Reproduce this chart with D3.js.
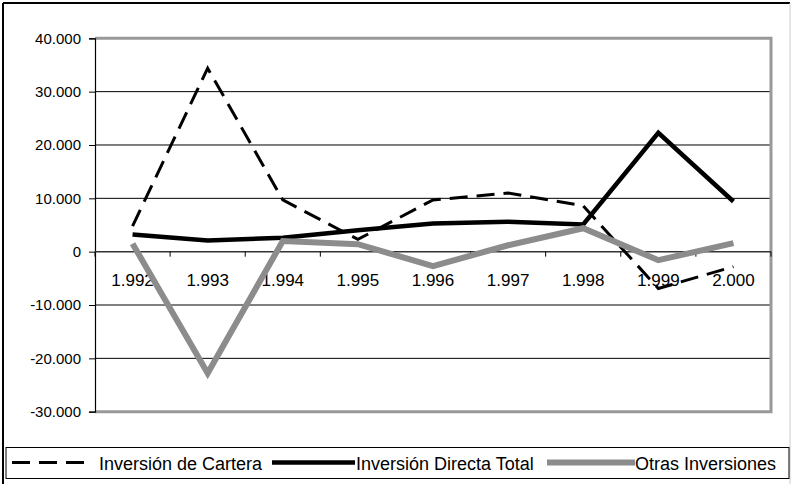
<!DOCTYPE html>
<html>
<head>
<meta charset="utf-8">
<script src="https://cdn.jsdelivr.net/npm/d3@7"></script>
<style>
  html, body { margin: 0; padding: 0; background: #fff; }
  svg { display: block; font-family: Arial, "Liberation Sans", sans-serif; }
</style>
</head>
<body>
<svg id="chart" width="792" height="484"></svg>
<script>
// Years on the category axis
const years = ["1.992", "1.993", "1.994", "1.995", "1.996", "1.997", "1.998", "1.999", "2.000"];

// Series values (millions)
const inversionCartera = [4800, 34400, 9700, 2300, 9700, 11000, 8600, -6900, -2800];
const inversionDirecta = [3200, 2100, 2600, 4000, 5300, 5600, 5100, 22300, 9400];
const otrasInversiones = [1500, -22800, 2000, 1400, -2700, 1200, 4400, -1600, 1600];

// Value axis ticks
const yTicks = [40000, 30000, 20000, 10000, 0, -10000, -20000, -30000];
const yTickLabels = ["40.000", "30.000", "20.000", "10.000", "0", "-10.000", "-20.000", "-30.000"];

const seriesNames = ["Inversión de Cartera", "Inversión Directa Total", "Otras Inversiones"];

const svg = d3.select("#chart");

const plot = { left: 95, right: 771, top: 38.3, bottom: 411.7 };

const x = d3.scaleBand().domain(years).range([plot.left, plot.right]);
const y = d3.scaleLinear().domain([-30000, 40000]).range([plot.bottom, plot.top]);

// Outer chart frame
svg.append("line").attr("x1", 3).attr("y1", 3).attr("x2", 790).attr("y2", 3)
  .attr("stroke", "#000").attr("stroke-width", 2);
svg.append("line").attr("x1", 3).attr("y1", 3).attr("x2", 3).attr("y2", 484)
  .attr("stroke", "#000").attr("stroke-width", 2);
svg.append("line").attr("x1", 790).attr("y1", 3).attr("x2", 790).attr("y2", 484)
  .attr("stroke", "#ccc").attr("stroke-width", 1);

// Horizontal gridlines
svg.append("g").selectAll("line")
  .data(yTicks.filter(v => v !== 40000 && v !== -30000 && v !== 0))
  .join("line")
  .attr("x1", plot.left).attr("x2", plot.right)
  .attr("y1", d => y(d)).attr("y2", d => y(d))
  .attr("stroke", "#000").attr("stroke-width", 1);

// Plot area border (top, right, bottom)
svg.append("path")
  .attr("d", `M${plot.left},${y(40000)}H${plot.right}V${y(-30000)}H${plot.left}`)
  .attr("fill", "none").attr("stroke", "#999").attr("stroke-width", 3);

// Value axis
const yAxis = d3.axisLeft(y)
  .tickValues(yTicks)
  .tickFormat((d, i) => yTickLabels[i])
  .tickSize(6)
  .tickPadding(8);
const gy = svg.append("g").attr("transform", `translate(${plot.left},0)`).call(yAxis);
gy.select(".domain").attr("stroke", "#000").attr("stroke-width", 1.2);
gy.selectAll(".tick line").attr("stroke", "#000");
gy.selectAll(".tick text").attr("font-size", 15).attr("fill", "#000")
  .attr("font-family", "Arial, 'Liberation Sans', sans-serif");

// Category axis along zero, with ticks between categories
const zeroY = y(0);
svg.append("line").attr("x1", plot.left).attr("x2", plot.right)
  .attr("y1", zeroY).attr("y2", zeroY).attr("stroke", "#333").attr("stroke-width", 1.5);
const bounds = years.map(d => x(d)).concat([plot.right]);
svg.append("g").selectAll("line").data(bounds).join("line")
  .attr("x1", d => d).attr("x2", d => d)
  .attr("y1", zeroY).attr("y2", zeroY + 5)
  .attr("stroke", "#000").attr("stroke-width", 1);
svg.append("g").selectAll("text").data(years).join("text")
  .attr("x", d => x(d) + x.bandwidth() / 2)
  .attr("y", zeroY + 34)
  .attr("text-anchor", "middle")
  .attr("font-size", 17)
  .attr("fill", "#000")
  .text(d => d);

// Series lines
const line = d3.line()
  .x((d, i) => x(years[i]) + x.bandwidth() / 2)
  .y(d => y(d));

const styles = [
  { values: inversionCartera, stroke: "#000", width: 3, dash: "18,9" },
  { values: inversionDirecta, stroke: "#000", width: 4.5, dash: null },
  { values: otrasInversiones, stroke: "#8c8c8c", width: 6, dash: null }
];

styles.forEach(s => {
  svg.append("path")
    .datum(s.values)
    .attr("d", line)
    .attr("fill", "none")
    .attr("stroke", s.stroke)
    .attr("stroke-width", s.width)
    .attr("stroke-linejoin", "miter")
    .attr("stroke-dasharray", s.dash);
});

// Legend
const legend = svg.append("g");
legend.append("rect")
  .attr("x", 6).attr("y", 447.5).attr("width", 783).attr("height", 31)
  .attr("fill", "#fff").attr("stroke", "#000").attr("stroke-width", 1);

const legendItems = [
  { x1: 12, x2: 87, tx: 99, style: styles[0] },
  { x1: 272, x2: 355, tx: 356, style: styles[1] },
  { x1: 547, x2: 635, tx: 635, style: styles[2] }
];
legendItems.forEach((it, i) => {
  legend.append("line")
    .attr("x1", it.x1).attr("x2", it.x2).attr("y1", 462.5).attr("y2", 462.5)
    .attr("stroke", it.style.stroke)
    .attr("stroke-width", it.style.width)
    .attr("stroke-dasharray", it.style.dash);
  legend.append("text")
    .attr("x", it.tx).attr("y", 469.5)
    .attr("font-size", 18).attr("fill", "#000")
    .text(seriesNames[i]);
});
</script>
</body>
</html>
